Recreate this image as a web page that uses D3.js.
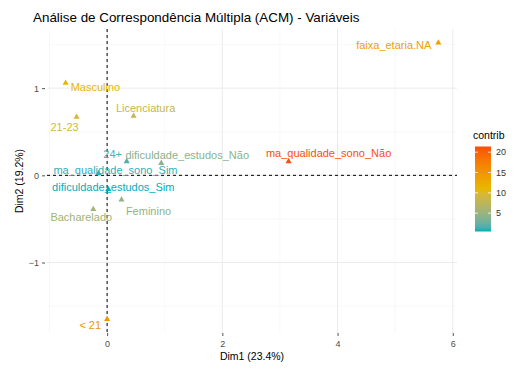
<!DOCTYPE html>
<html><head><meta charset="utf-8">
<script src="https://cdn.jsdelivr.net/npm/d3@7"></script>
<style>
body{margin:0;background:#fff;}
svg{font-family:"Liberation Sans",Arial,sans-serif;}
</style></head>
<body><svg id="c" width="527" height="378"></svg>
<script>
// ---- data ----
const categories = ["faixa_etaria.NA","Masculino","21-23","Licenciatura","24+","dificuldade_estudos_Não",
  "ma_qualidade_sono_Não","ma_qualidade_sono_Sim","dificuldade_estudos_Sim","Feminino","Bacharelado","< 21"];
const dim1 = [5.75,-0.72,-0.53,0.46,0.34,0.94,3.15,-0.15,0.02,0.25,-0.24,0.00];
const dim2 = [1.52,1.06,0.67,0.68,0.16,0.14,0.16,0.02,-0.16,-0.28,-0.39,-1.65];
const contrib = [13.5,11,9.5,8,1.6,4,21.4,0.9,0.48,4.5,5.5,15];
const xTicks = [0,2,4,6];
const yTicks = [-1,0,1];
const legendTicks = [5,10,15,20];
const xTitle = "Dim1 (23.4%)";
const yTitle = "Dim2 (19.2%)";
const title = "Análise de Correspondência Múltipla (ACM) - Variáveis";
// label layout (pixel offsets from each point, and anchor)
const labelLayout = [[-7,2,"end"],[5,4,"start"],[-12,10,"middle"],[12,-8,"middle"],[-14,-7,"middle"],[26,-8,"middle"],
  [40,-8,"middle"],[17,-4,"middle"],[5,-2,"middle"],[27,11,"middle"],[-12,8,"middle"],[-6,6,"end"]];

const svg = d3.select("#c");
const L=47,R=457,T=29,B=333;
function pad(ext){const r=ext[1]-ext[0];return [ext[0]-0.05*r, ext[1]+0.05*r];}
const x = d3.scaleLinear().domain(pad(d3.extent(dim1))).range([L,R]);
const y = d3.scaleLinear().domain(pad(d3.extent(dim2))).range([B,T]);
const cext = d3.extent(contrib);
const col = d3.scaleLinear().domain([cext[0],(cext[0]+cext[1])/2,cext[1]])
  .range(["#00AFBB","#E7B800","#FC4E07"]).interpolate(d3.interpolateLab);

// grid
const g = svg.append("g");
const xMinor = d3.range(Math.ceil(x.domain()[0]), Math.floor(x.domain()[1])+1).filter(v=>v%2!==0);
const yMinor = [-1.5,-0.5,0.5,1.5];
g.selectAll(".xm").data(xMinor).join("line").attr("x1",d=>x(d)).attr("x2",d=>x(d)).attr("y1",T).attr("y2",B)
  .attr("stroke","#F3F3F3").attr("stroke-width",0.6);
g.selectAll(".ym").data(yMinor).join("line").attr("y1",d=>y(d)).attr("y2",d=>y(d)).attr("x1",L).attr("x2",R)
  .attr("stroke","#F3F3F3").attr("stroke-width",0.6);
g.selectAll(".xg").data(xTicks).join("line").attr("x1",d=>x(d)).attr("x2",d=>x(d)).attr("y1",T).attr("y2",B)
  .attr("stroke","#EBEBEB").attr("stroke-width",1);
g.selectAll(".yg").data(yTicks).join("line").attr("y1",d=>y(d)).attr("y2",d=>y(d)).attr("x1",L).attr("x2",R)
  .attr("stroke","#EBEBEB").attr("stroke-width",1);

// axes
const xAxis = d3.axisBottom(x).tickValues(xTicks).tickSize(3).tickPadding(5).tickFormat(d3.format("d"));
const yAxis = d3.axisLeft(y).tickValues(yTicks).tickSize(3).tickPadding(4).tickFormat(d3.format("d"));
const gx = svg.append("g").attr("transform",`translate(0,${B})`).call(xAxis);
const gy = svg.append("g").attr("transform",`translate(${L-1},0)`).call(yAxis);
[gx,gy].forEach(a=>{a.select(".domain").remove();
  a.selectAll("line").attr("stroke","#555").attr("stroke-width",1);
  a.selectAll("text").attr("fill","#4D4D4D").style("font-size","9px").style("font-family","Liberation Sans, Arial, sans-serif");});
gy.selectAll("line").attr("x2",-3).attr("transform","translate(-1,0)");

// reference lines
svg.append("line").attr("x1",x(0)).attr("x2",x(0)).attr("y1",T).attr("y2",B)
  .attr("stroke","#000").attr("stroke-width",1).attr("stroke-dasharray","3,3");
svg.append("line").attr("x1",L).attr("x2",R).attr("y1",y(0)).attr("y2",y(0))
  .attr("stroke","#000").attr("stroke-width",1).attr("stroke-dasharray","3,3");

// points
const idx = d3.range(categories.length);
svg.selectAll(".pt").data(idx).join("path")
  .attr("d",d3.symbol(d3.symbolTriangle,16))
  .attr("transform",i=>`translate(${x(dim1[i])},${y(dim2[i])})`)
  .attr("fill",i=>col(contrib[i]));
svg.selectAll(".lb").data(idx).join("text")
  .attr("x",i=>x(dim1[i])+labelLayout[i][0])
  .attr("y",i=>y(dim2[i])+labelLayout[i][1])
  .attr("text-anchor",i=>labelLayout[i][2])
  .attr("dominant-baseline","central")
  .attr("fill",i=>col(contrib[i]))
  .style("font-size","11px")
  .text(i=>categories[i]);

// titles
svg.append("text").attr("x",33).attr("y",22).style("font-size","13.4px").attr("fill","#000").text(title);
svg.append("text").attr("x",(L+R)/2).attr("y",360).attr("text-anchor","middle").style("font-size","10.5px").text(xTitle);
svg.append("text").attr("transform",`translate(19,${(T+B)/2}) rotate(-90)`).attr("text-anchor","middle")
  .attr("dominant-baseline","central").style("font-size","10.5px").text(yTitle);

// legend
const lg = svg.append("g");
const ly = d3.scaleLinear().domain(cext).range([231.5,146.5]);
const defs = svg.append("defs");
const grad = defs.append("linearGradient").attr("id","gr").attr("x1",0).attr("x2",0).attr("y1",1).attr("y2",0);
d3.range(0,1.0001,0.05).forEach(t=>grad.append("stop").attr("offset",t)
  .attr("stop-color",col(cext[0]+t*(cext[1]-cext[0]))));
lg.append("rect").attr("x",475).attr("y",ly(cext[1])).attr("width",16).attr("height",ly(cext[0])-ly(cext[1]))
  .attr("fill","url(#gr)");
lg.selectAll(".tk").data(legendTicks).join("g").each(function(v){
  const s=d3.select(this);
  s.append("line").attr("x1",475).attr("x2",478).attr("y1",ly(v)).attr("y2",ly(v)).attr("stroke","#fff").attr("stroke-width",0.8);
  s.append("line").attr("x1",488).attr("x2",491).attr("y1",ly(v)).attr("y2",ly(v)).attr("stroke","#fff").attr("stroke-width",0.8);
  s.append("text").attr("x",496).attr("y",ly(v)).attr("dominant-baseline","central")
    .style("font-size","9px").attr("fill","#333").text(v);
});
lg.append("text").attr("x",473).attr("y",139).style("font-size","10.5px").text("contrib");
</script></body></html>
